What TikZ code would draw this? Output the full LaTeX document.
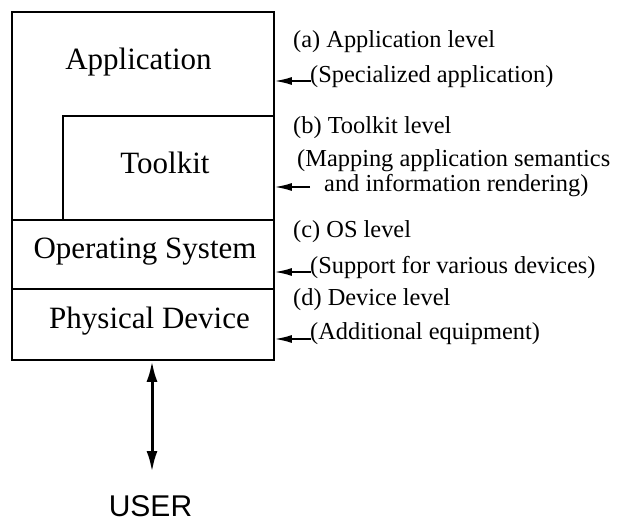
\documentclass[tikz,border=0pt]{standalone}
\usepackage{fontspec}
\setmainfont{Liberation Serif}
\newfontfamily\usersf{Liberation Sans}
\usetikzlibrary{arrows.meta}
\begin{document}
\begin{tikzpicture}[x=1pt,y=-1pt,
  layer/.style={draw, line width=1.8pt, rectangle, inner sep=0pt},
  boxlabel/.style={anchor=base, inner sep=0pt, font=\fontsize{31}{34}\selectfont},
  side/.style={anchor=base west, inner sep=0pt, font=\fontsize{24.4}{27}\selectfont},
  pointer/.style={line width=1.6pt, -{Latex[length=17pt,width=8pt]}},
  userarrow/.style={line width=3pt, {Latex[length=21pt,width=11pt]}-{Latex[length=21pt,width=11pt]}}]
\useasboundingbox (0,0) rectangle (625,522);
% layers
\node[layer, minimum width=262pt, minimum height=348pt] (frame) at (143,186) {};
\node[layer, minimum width=211pt, minimum height=104pt] (tkbox) at (168.5,168) {};
\node[layer, minimum width=262pt, minimum height=69pt] (osbox) at (143,254.5) {};
\node[layer, minimum width=262pt, minimum height=71pt] (devbox) at (143,324.5) {};
% box labels
\node[boxlabel] (app) at (138.5,70) {Application};
\node[boxlabel] (tk) at (165,173) {Toolkit};
\node[boxlabel] (os) at (145,258) {Operating System};
\node[boxlabel] (dev) at (149.5,328) {Physical Device};
% side texts
\node[side] (la) at (293,47) {(a) Application level};
\node[side] (sa) at (310,82) {(Specialized application)};
\node[side] (lb) at (293,133) {(b) Toolkit level};
\node[side] (sb1) at (297,166) {(Mapping application semantics};
\node[side] (sb2) at (324,191) {and information rendering)};
\node[side] (lc) at (293,237) {(c) OS level};
\node[side] (sc) at (310,273) {(Support for various devices)};
\node[side] (ld) at (293,305) {(d) Device level};
\node[side] (sd) at (310,339) {(Additional equipment)};
% pointers
\coordinate (pa) at (311,81);
\coordinate (pb) at (310,187);
\coordinate (pc) at (311,272);
\coordinate (pd) at (311,339);
\draw[pointer] (pa) -- (frame.east |- pa);
\draw[pointer] (pb) -- (frame.east |- pb);
\draw[pointer] (pc) -- (frame.east |- pc);
\draw[pointer] (pd) -- (frame.east |- pd);
% user
\node[anchor=base, inner sep=0pt, font=\usersf\fontsize{30}{32}\selectfont] (user) at (150.5,516) {USER};
\coordinate (utip) at (152,472);
\draw[userarrow] (devbox.south -| utip) -- (utip);
\end{tikzpicture}
\end{document}
